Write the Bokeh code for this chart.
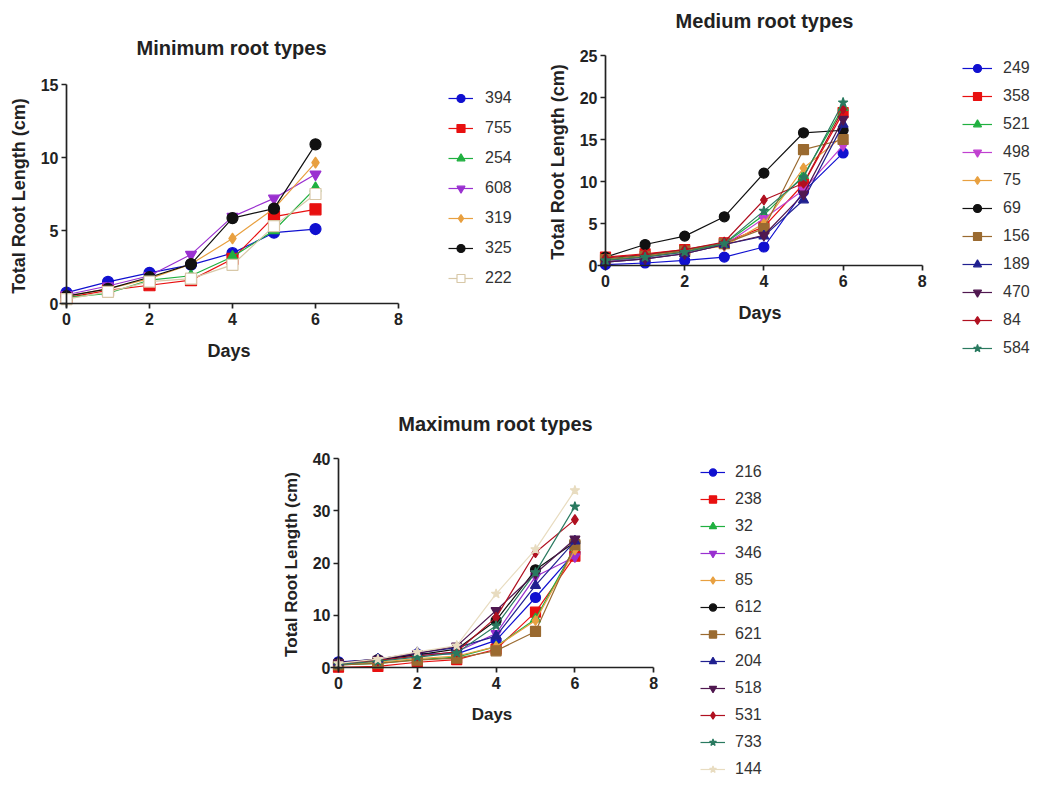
from bokeh.plotting import figure
from bokeh.models import (Legend, LegendItem, Spacer, FixedTicker, Range1d,
                          ColumnDataSource, Label)
from bokeh.layouts import column, row
from bokeh.embed import file_html
from bokeh.resources import INLINE

FONT = "Liberation Sans"

days = [0, 1, 2, 3, 4, 5, 6]
x_ticks = [0, 2, 4, 6, 8]

# ---------------- Minimum root types ----------------
min_ids = ["394", "755", "254", "608", "319", "325", "222"]
min_394 = [0.75, 1.48, 2.1, 2.65, 3.45, 4.85, 5.1]
min_755 = [0.4, 0.9, 1.25, 1.6, 3.05, 5.95, 6.45]
min_254 = [0.4, 0.7, 1.6, 1.9, 3.2, 5.0, 7.9]
min_608 = [0.6, 1.2, 1.9, 3.35, 5.95, 7.2, 8.85]
min_319 = [0.5, 1.0, 1.7, 2.7, 4.45, 6.5, 9.65]
min_325 = [0.5, 1.0, 1.8, 2.7, 5.85, 6.5, 10.9]
min_222 = [0.3, 0.8, 1.5, 1.7, 2.65, 5.3, 7.5]
min_values = [min_394, min_755, min_254, min_608, min_319, min_325, min_222]
min_y_ticks = [0, 5, 10, 15]

# ---------------- Medium root types ----------------
med_ids = ["249", "358", "521", "498", "75", "69", "156", "189", "470", "84", "584"]
med_249 = [0.1, 0.3, 0.6, 1.0, 2.2, 8.8, 13.4]
med_358 = [1.0, 1.4, 1.9, 2.7, 4.6, 9.7, 18.2]
med_521 = [0.8, 1.2, 1.8, 2.6, 6.0, 10.7, 18.8]
med_498 = [0.5, 1.0, 1.6, 2.4, 5.6, 9.0, 14.3]
med_75 = [0.6, 1.1, 1.7, 2.3, 5.0, 11.6, 15.4]
med_69 = [1.0, 2.5, 3.5, 5.8, 11.0, 15.8, 16.1]
med_156 = [0.7, 1.1, 1.7, 2.6, 4.4, 13.8, 15.0]
med_189 = [0.4, 0.8, 1.4, 2.5, 3.5, 7.8, 16.8]
med_470 = [0.4, 0.8, 1.4, 2.5, 3.6, 8.5, 17.4]
med_84 = [0.9, 1.3, 1.9, 2.8, 7.8, 9.8, 18.6]
med_584 = [0.6, 1.0, 1.6, 2.6, 6.5, 10.5, 19.4]
med_values = [med_249, med_358, med_521, med_498, med_75, med_69, med_156,
              med_189, med_470, med_84, med_584]
med_y_ticks = [0, 5, 10, 15, 20, 25]

# ---------------- Maximum root types ----------------
max_ids = ["216", "238", "32", "346", "85", "612", "621", "204", "518", "531", "733", "144"]
max_216 = [1.1, 1.45, 2.6, 2.6, 5.2, 13.4, 22.0]
max_238 = [0.05, 0.2, 1.0, 1.5, 3.5, 10.6, 21.3]
max_32 = [0.5, 0.8, 1.5, 2.0, 4.0, 9.3, 23.0]
max_346 = [0.8, 1.3, 2.2, 3.0, 6.5, 17.4, 21.2]
max_85 = [0.6, 1.0, 1.7, 2.2, 4.0, 9.0, 22.5]
max_612 = [0.9, 1.5, 2.4, 3.5, 9.0, 18.7, 24.0]
max_621 = [0.5, 0.8, 1.4, 1.8, 3.2, 6.9, 23.5]
max_204 = [1.0, 1.6, 2.8, 3.8, 6.0, 15.7, 24.2]
max_518 = [0.9, 1.6, 2.7, 4.1, 10.9, 18.0, 24.6]
max_531 = [0.7, 1.3, 2.2, 3.0, 9.6, 22.0, 28.3]
max_733 = [0.6, 1.2, 2.0, 2.8, 8.0, 18.2, 30.8]
max_144 = [0.8, 1.6, 3.0, 4.2, 14.1, 22.6, 33.9]
max_values = [max_216, max_238, max_32, max_346, max_85, max_612, max_621,
              max_204, max_518, max_531, max_733, max_144]
max_y_ticks = [0, 10, 20, 30, 40]

# styles: (marker, colour, fill)
STYLE = {
    "blue": ("circle", "#1010d0", "#1010d0"),
    "red": ("square", "#e81010", "#e81010"),
    "green": ("triangle", "#20b040", "#20b040"),
    "purple": ("inverted_triangle", "#9a30d0", "#9a30d0"),
    "magenta": ("inverted_triangle", "#c040d0", "#c040d0"),
    "orange": ("diamond", "#e8a040", "#e8a040"),
    "black": ("circle", "#111111", "#111111"),
    "tan_open": ("square", "#d8c8a8", "white"),
    "brown": ("square", "#9a6a30", "#9a6a30"),
    "navy": ("triangle", "#202090", "#202090"),
    "darkpurple": ("inverted_triangle", "#501850", "#501850"),
    "darkred": ("diamond", "#b01020", "#b01020"),
    "teal": ("star", "#2a7a60", "#2a7a60"),
    "beige": ("star", "#e8dcc0", "#e8dcc0"),
}
min_styles = ["blue", "red", "green", "purple", "orange", "black", "tan_open"]
med_styles = ["blue", "red", "green", "magenta", "orange", "black", "brown",
              "navy", "darkpurple", "darkred", "teal"]
max_styles = ["blue", "red", "green", "purple", "orange", "black", "brown",
              "navy", "darkpurple", "darkred", "teal", "beige"]

AX = "#222222"


def make_panel(title, ids, values, styles, width, height, x0_px, xscale,
               y0_px, yscale, y_top, y_ticks, xb0, yb0, title_xy,
               legend_xy, item_h, gap, glyph_w, standoff, msize, label_size):
    # whole canvas is the plot frame; ranges map data onto page pixels
    x_start = -x0_px / xscale
    x_end = x_start + width / xscale
    y_end = y0_px / yscale
    y_start = -(height - y0_px) / yscale
    p = figure(width=width, height=height, x_range=Range1d(x_start, x_end),
               y_range=Range1d(y_start, y_end), output_backend="svg",
               toolbar_location=None, min_border=0, title=None)
    p.outline_line_color = None
    p.xgrid.visible = False
    p.ygrid.visible = False
    for ax, ticks in ((p.xaxis, x_ticks), (p.yaxis, y_ticks)):
        ax.fixed_location = 0
        ax.ticker = FixedTicker(ticks=ticks)
        ax.axis_line_width = 1.7
        ax.axis_line_color = AX
        ax.major_tick_line_width = 1.7
        ax.major_tick_line_color = AX
        ax.major_tick_in = 0
        ax.major_tick_out = 5
        ax.minor_tick_line_color = None
        ax.major_label_text_font = FONT
        ax.major_label_text_font_size = "16px"
        ax.major_label_text_font_style = "bold"
        ax.major_label_text_color = AX
        ax.axis_label_text_font = FONT
        ax.axis_label_text_font_size = label_size
        ax.axis_label_text_font_style = "bold"
        ax.axis_label_text_color = AX
    p.xaxis.bounds = (xb0, 8)
    p.yaxis.bounds = (yb0, y_top)
    p.xaxis.major_label_standoff = 4
    p.yaxis.major_label_standoff = 3
    p.xaxis.axis_label_standoff = 13
    p.yaxis.axis_label_standoff = 9
    p.xaxis.axis_label = "Days"
    p.yaxis.axis_label = "Total Root Length (cm)"

    p.add_layout(Label(x=title_xy[0], y=title_xy[1], x_units="screen",
                       y_units="screen", text=title, text_align="center",
                       text_baseline="middle", text_font=FONT,
                       text_font_size="20px", text_font_style="bold",
                       text_color=AX))

    items = []
    for name, vals, st in zip(ids, values, styles):
        marker, color, fill = STYLE[st]
        src = ColumnDataSource(dict(day=days, length=vals))
        lr = p.line("day", "length", source=src, line_color=color, line_width=1.2)
        sr = p.scatter("day", "length", source=src, marker=marker, size=msize,
                       fill_color=fill, line_color=color, line_width=1.2)
        items.append(LegendItem(label=name, renderers=[lr, sr]))
    legend = Legend(items=items, location=legend_xy, orientation="vertical",
                    glyph_width=glyph_w, glyph_height=item_h, label_height=item_h,
                    spacing=gap, padding=0, margin=0,
                    label_standoff=standoff, label_text_font=FONT,
                    label_text_font_size="16px", label_text_color="#333333",
                    border_line_color=None, background_fill_alpha=0)
    p.add_layout(legend, "center")
    return p


p1 = make_panel("Minimum root types", min_ids, min_values, min_styles,
                530, 395, 66, 41.5, 303, 14.6, 15, min_y_ticks, -0.18, -0.25,
                (231, 348), (448, 107), 20, 10, 25, 12, 11, "18px")
p2 = make_panel("Medium root types", med_ids, med_values, med_styles,
                505, 395, 75, 39.6, 265, 8.4, 25, med_y_ticks, -0.2, -0.4,
                (234, 375), (432, 37), 20, 8, 30, 11, 10, "18px")
p3 = make_panel("Maximum root types", max_ids, max_values, max_styles,
                520, 392, 68, 39.4, 272, 5.225, 40, max_y_ticks, -0.2, -0.6,
                (225, 364), (430, 9), 18, 9, 25, 10, 10, "17px")

layout = column(row(p1, p2), row(Spacer(width=270, height=392), p3))

open("out.html", "w").write(file_html(layout, INLINE))
